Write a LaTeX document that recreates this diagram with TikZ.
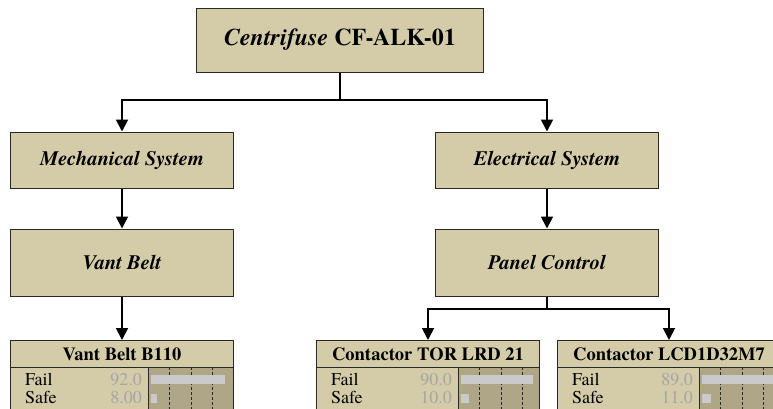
\documentclass[tikz,border=0pt]{standalone}
\usepackage{fontspec}
\setmainfont{texgyretermes}[Extension=.otf, UprightFont=*-regular, BoldFont=*-bold,
  ItalicFont=*-italic, BoldItalicFont=*-bolditalic]
\usetikzlibrary{arrows.meta}
\definecolor{boxtan}{RGB}{212,204,168}
\definecolor{bartan}{RGB}{174,166,134}
\definecolor{bargray}{RGB}{202,202,202}
\definecolor{valgray}{RGB}{165,165,165}
\definecolor{edge}{RGB}{40,40,40}
\tikzset{
  sysbox/.style={draw=edge, fill=boxtan, line width=1pt, minimum width=223pt, inner sep=0pt,
    font=\fontsize{20.5}{24}\selectfont\bfseries\itshape},
  topbox/.style={sysbox, minimum width=287pt, minimum height=64pt,
    font=\fontsize{24}{28}\selectfont\bfseries},
  titlebox/.style={draw=edge, fill=boxtan, line width=1pt, minimum width=223pt, minimum height=27pt,
    inner sep=0pt, font=\fontsize{18.5}{20}\selectfont\bfseries},
  rowtext/.style={inner sep=0pt, font=\fontsize{18}{20}\selectfont},
  link/.style={black, line width=1.8pt}
}
\begin{document}
\begin{tikzpicture}[x=1pt, y=-1pt, >={Triangle[width=12pt,length=12pt]}]
\clip (0,0) rectangle (773,408);
\fill[white] (0,0) rectangle (773,408);
% tree of systems
\node[topbox] (cf) at (340,40) {\textit{Centrifuse} CF-ALK-01};
\node[sysbox, minimum height=56pt] (mech) at (122,160) {Mechanical System};
\node[sysbox, minimum height=56pt] (elec) at (547,160) {Electrical System};
\node[sysbox, minimum height=67pt] (vant) at (122,262.5) {Vant Belt};
\node[sysbox, minimum height=67pt] (panel) at (547,262.5) {Panel Control};
% monitors
\foreach \nm/\lx/\bx/\ttl/\pf/\ps in {vb/10/148/Vant Belt B110/92.0/8.00,
    tor/316/458/Contactor TOR LRD 21/90.0/10.0, lcd/557/699/Contactor LCD1D32M7/89.0/11.0} {
  \node[titlebox, anchor=north west] (\nm) at (\lx,340) {\ttl};
  \filldraw[fill=boxtan, draw=edge, line width=1pt] (\lx,367) rectangle (\lx+223,412);
  \filldraw[fill=bartan, draw=edge, line width=1pt] (\bx,367) rectangle (\lx+223,412);
  \foreach \t in {1,2,3}
    \draw[edge, densely dashed, line width=0.6pt] ({\bx+\t*21.5},367) -- ++(0,45);
  \fill[bargray] (\bx+3,375) rectangle ++({0.8*\pf},9);
  \fill[bargray] (\bx+3,394) rectangle ++({0.8*\ps},9);
  \node[rowtext, anchor=base west] at (\lx+15,385) {Fail};
  \node[rowtext, anchor=base west] at (\lx+15,403) {Safe};
  \node[rowtext, anchor=base east, text=valgray] at (\bx-6,385) {\pf};
  \node[rowtext, anchor=base east, text=valgray] at (\bx-6,403) {\ps};
}
% connectors
\coordinate (split1) at (340,100);
\coordinate (split2) at (547,309);
\draw[link] (cf.south) -- (split1);
\draw[link,->] (split1) -| (mech.north);
\draw[link,->] (split1) -| (elec.north);
\draw[link,->] (mech) -- (vant);
\draw[link,->] (elec) -- (panel);
\draw[link,->] (vant) -- (vb);
\draw[link] (panel.south) -- (split2);
\draw[link,->] (split2) -| (tor.north);
\draw[link,->] (split2) -| (lcd.north);
\end{tikzpicture}
\end{document}
